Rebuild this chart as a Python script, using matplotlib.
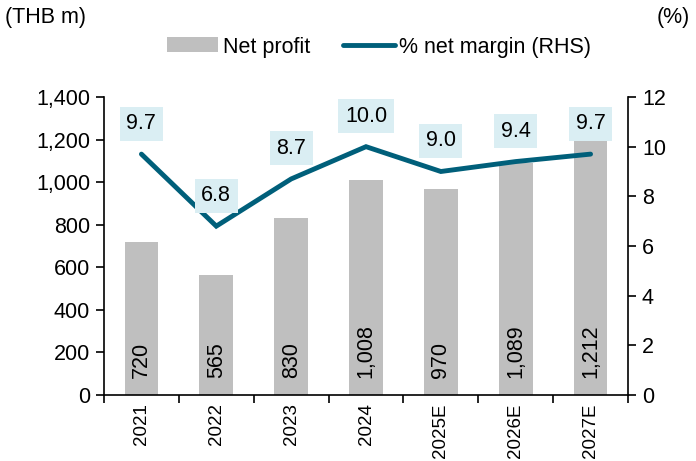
import matplotlib
matplotlib.use("Agg")
import matplotlib.pyplot as plt
import numpy as np

plt.rcParams['font.family'] = ['Liberation Sans', 'DejaVu Sans']

years = ["2021", "2022", "2023", "2024", "2025E", "2026E", "2027E"]
net_profit = [720, 565, 830, 1008, 970, 1089, 1212]
margin = [9.7, 6.8, 8.7, 10.0, 9.0, 9.4, 9.7]

bar_color = "#BFBFBF"
line_color = "#005F7A"
box_color = "#DAEEF3"
fs = 15.5

fig = plt.figure(figsize=(6.96, 4.61), dpi=100)
ax = fig.add_axes([104/696, 1-395/461, (628-104)/696, (395-97)/461])
ax2 = ax.twinx()
ax.set_zorder(1); ax2.set_zorder(2); ax.patch.set_visible(False)

x = np.arange(len(years))
bars = ax.bar(x, net_profit, width=0.45, color=bar_color, label="Net profit", zorder=2)
for xi, v in zip(x, net_profit):
    ax.annotate(f"{v:,}", (xi, 0), xytext=(0, 12), textcoords="offset points",
                rotation=90, ha="center", va="bottom", fontsize=fs, color="black", zorder=3)

ax.set_xlim(-0.5, len(years)-0.5)
ax.set_ylim(0, 1400)
ax.set_yticks(np.arange(0, 1401, 200))
ax.set_yticklabels([f"{v:,}" for v in range(0, 1401, 200)], fontsize=fs)
ax.set_xticks(x)
ax.set_xticklabels(years, rotation=90, fontsize=13.5)
ax.tick_params(axis="x", length=0, pad=6)
ax.set_xticks(np.arange(-0.5, len(years)), minor=True)
ax.tick_params(axis="x", which="minor", length=6, direction="out", width=1.2)
ax.tick_params(axis="y", length=6, direction="out", width=1.2, pad=4)
for s in ["top", "right"]:
    ax.spines[s].set_visible(False)
ax.spines["left"].set_linewidth(1.2)
ax.spines["bottom"].set_linewidth(1.2)

line, = ax2.plot(x, margin, color=line_color, lw=3.5, label="% net margin (RHS)",
                 solid_capstyle="round", solid_joinstyle="miter")
ax2.set_ylim(0, 12)
ax2.set_yticks(np.arange(0, 13, 2))
ax2.set_yticklabels([str(v) for v in range(0, 13, 2)], fontsize=fs)
ax2.tick_params(axis="y", length=6, direction="out", width=1.2, pad=4)
for s in ["top", "left", "bottom"]:
    ax2.spines[s].set_visible(False)
ax2.spines["right"].set_linewidth(1.2)

for xi, m in zip(x, margin):
    ax2.annotate(f"{m:.1f}", (xi, m), xytext=(0, 22), textcoords="offset points",
                 ha="center", va="center", fontsize=fs,
                 bbox=dict(boxstyle="square,pad=0.3", fc=box_color, ec="none"))

fig.text(5/696, 1-18/461, "(THB m)", fontsize=fs, ha="left", va="center")
fig.text(690/696, 1-18/461, "(%)", fontsize=fs, ha="right", va="center")

fig.legend([bars, line], ["Net profit", "% net margin (RHS)"], loc="center",
           bbox_to_anchor=(379/696, 1-47/461), ncol=2, frameon=False, fontsize=fs,
           handlelength=2.4, handletextpad=0.2, columnspacing=1.55)

fig.savefig("out.png", dpi=100)
